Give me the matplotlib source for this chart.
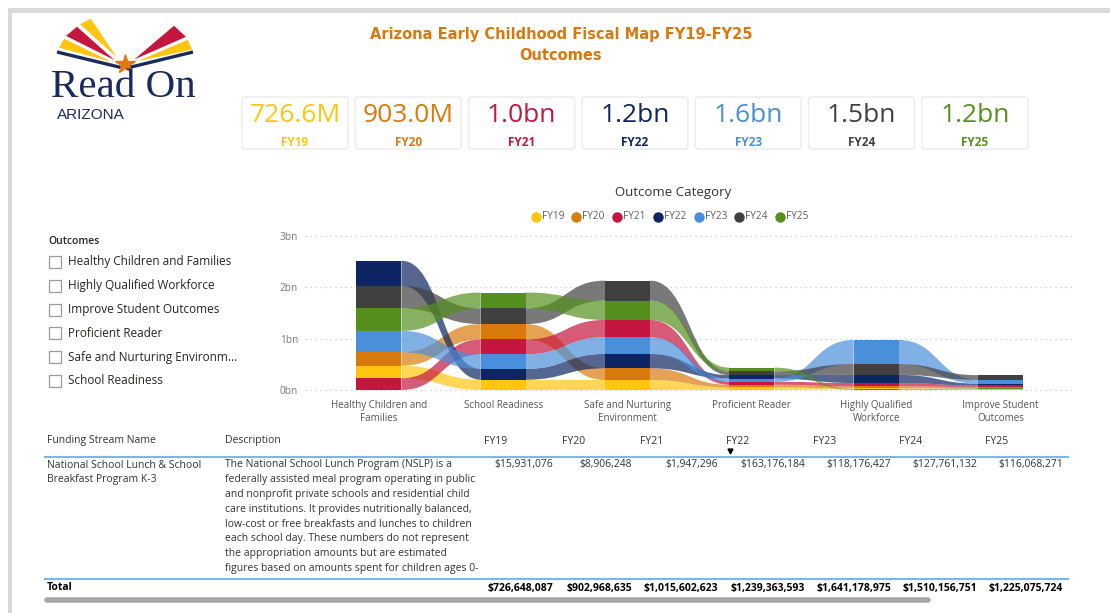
import numpy as np
import matplotlib
matplotlib.use("Agg")
import matplotlib.pyplot as plt
from matplotlib.path import Path
from matplotlib.patches import PathPatch, Polygon, FancyBboxPatch, Rectangle

plt.rcParams["font.family"] = ["Open Sans", "DejaVu Sans"]

W, H = 1110, 613

# --- data -------------------------------------------------------------
years = ["FY19", "FY20", "FY21", "FY22", "FY23", "FY24", "FY25"]
year_colors = ["#FFC50F", "#D97B0C", "#C4163F", "#0D2663", "#4A8FD9", "#404040", "#55901E"]

categories = ["Healthy Children and\nFamilies", "School Readiness", "Safe and Nurturing\nEnvironment",
              "Proficient Reader", "Highly Qualified\nWorkforce", "Improve Student\nOutcomes"]

# amounts in billions per outcome category
fy19 = [0.247, 0.200, 0.195, 0.050, 0.018, 0.015]
fy20 = [0.260, 0.300, 0.227, 0.052, 0.040, 0.024]
fy21 = [0.227, 0.290, 0.338, 0.058, 0.065, 0.030]
fy22 = [0.490, 0.210, 0.280, 0.068, 0.160, 0.036]
fy23 = [0.420, 0.285, 0.325, 0.062, 0.470, 0.075]
fy24 = [0.440, 0.305, 0.390, 0.070, 0.210, 0.090]
fy25 = [0.435, 0.310, 0.377, 0.075, 0.012, 0.018]

totals = [726648087, 902968635, 1015602623, 1239363593, 1641178975, 1510156751, 1225075724]

outcome_options = ["Healthy Children and Families", "Highly Qualified Workforce",
                   "Improve Student Outcomes", "Proficient Reader",
                   "Safe and Nurturing Environm...", "School Readiness"]

stream_name = ["National School Lunch & School", "Breakfast Program K-3"]
stream_desc = [
    "The National School Lunch Program (NSLP) is a",
    "federally assisted meal program operating in public",
    "and nonprofit private schools and residential child",
    "care institutions. It provides nutritionally balanced,",
    "low-cost or free breakfasts and lunches to children",
    "each school day. These numbers do not represent",
    "the appropriation amounts but are estimated",
    "figures based on amounts spent for children ages 0-",
]
stream_values = [15931076, 8906248, 1947296, 163176184, 118176427, 127761132, 116068271]


def short_amount(v):
    if v >= 1e9:
        return f"{v / 1e9:.1f}bn"
    return f"{v / 1e6:.1f}M"


fig = plt.figure(figsize=(W / 100, H / 100), dpi=100)

# background canvas in pixel coords (y down)
bg = fig.add_axes([0, 0, 1, 1])
bg.set_xlim(0, W)
bg.set_ylim(H, 0)
bg.axis("off")

# frame
bg.add_patch(Rectangle((8, 8), W - 8, 5, fc="#D9D9D9", lw=0))
bg.add_patch(Rectangle((8, 8), 4, H - 8, fc="#D9D9D9", lw=0))

# logo
navy = "#1B2A5E"
bg.add_patch(Polygon([(91, 18), (79, 24), (120, 61)], fc="#FFC50F", ec="white", lw=0.8))
bg.add_patch(Polygon([(77, 26), (65, 36), (118, 62.5)], fc="#C4163F", ec="white", lw=0.8))
bg.add_patch(Polygon([(64, 38), (58, 48), (117, 64)], fc="#FFC50F", ec="white", lw=0.8))
bg.add_patch(Polygon([(174, 25), (187, 37), (131, 61.5)], fc="#C4163F", ec="white", lw=0.8))
bg.add_patch(Polygon([(188, 39), (193, 50), (132, 63)], fc="#FFC50F", ec="white", lw=0.8))
bg.plot([57, 121], [52, 67.5], color=navy, lw=2.4, solid_capstyle="butt")
bg.plot([129, 193], [67.5, 52], color=navy, lw=2.4, solid_capstyle="butt")
bg.plot(125, 64, marker="*", ms=15, color="#E07B12", mec="#E07B12")
fig.text(51 / W, 1 - 97 / H, "Read On", family="Liberation Serif", fontsize=29.5,
         color=navy, va="baseline", ha="left")
fig.text(57 / W, 1 - 119 / H, "ARIZONA", family="Liberation Sans", fontsize=11,
         color=navy, va="baseline", ha="left")

# title
title_color = "#D9780F"
fig.text(561 / W, 1 - 34 / H, "Arizona Early Childhood Fiscal Map FY19-FY25", ha="center",
         va="center", fontsize=10.5, fontweight="bold", family="DejaVu Sans", color=title_color)
fig.text(561 / W, 1 - 56 / H, "Outcomes", ha="center", va="center", fontsize=10.5,
         fontweight="bold", family="DejaVu Sans", color=title_color)

# KPI cards
for i, (yr, tot, col) in enumerate(zip(years, totals, year_colors)):
    x = 242 + 113.3 * i
    bg.add_patch(FancyBboxPatch((x, 97), 106, 52, boxstyle="round,pad=0,rounding_size=3",
                                fc="white", ec="#EBEBEB", lw=1))
    bg.text(x + 53, 115.5, short_amount(tot), ha="center", va="center", fontsize=19, color=col)
    bg.text(x + 53, 142.5, yr, ha="center", va="center", fontsize=8.5, fontweight="bold", color=col)

# slicer
bg.text(48, 241.5, "Outcomes", ha="left", va="center", fontsize=7.5, fontweight="semibold",
        color="#252423")
for i, name in enumerate(outcome_options):
    yc = 262 + 23.75 * i
    bg.add_patch(Rectangle((48.5, yc - 6), 12, 12, fc="white", ec="#9A9A9A", lw=0.9))
    bg.text(68, yc, name, ha="left", va="center", fontsize=8.5, color="#252423")

# --- ribbon chart -------------------------------------------------------
series = np.array([fy19, fy20, fy21, fy22, fy23, fy24, fy25])
n_ser, n_cat = series.shape
bottoms = np.zeros_like(series)
for j in range(n_cat):
    acc = 0.0
    for s in np.argsort(series[:, j], kind="stable"):
        bottoms[s, j] = acc
        acc += series[s, j]
tops = bottoms + series

ax = fig.add_axes([305 / W, 1 - 392 / H, 770 / W, 161 / H])
ax.patch.set_alpha(0)
ax.set_xlim(-0.595, 5.6)
ax.set_ylim(-0.04, 3.1)

bw = 0.181
codes = [Path.MOVETO, Path.CURVE4, Path.CURVE4, Path.CURVE4, Path.LINETO,
         Path.CURVE4, Path.CURVE4, Path.CURVE4, Path.CLOSEPOLY]
for s in range(n_ser):
    col = year_colors[s]
    for j in range(n_cat - 1):
        x0, x1 = j + bw, j + 1 - bw
        xm = (x0 + x1) / 2
        verts = [(x0, tops[s, j]), (xm, tops[s, j]), (xm, tops[s, j + 1]), (x1, tops[s, j + 1]),
                 (x1, bottoms[s, j + 1]), (xm, bottoms[s, j + 1]), (xm, bottoms[s, j]),
                 (x0, bottoms[s, j]), (x0, tops[s, j])]
        ax.add_patch(PathPatch(Path(verts, codes), fc=col, alpha=0.7, lw=0))
for s in range(n_ser):
    ax.bar(np.arange(n_cat), series[s], bottom=bottoms[s], width=2 * bw,
           color=year_colors[s], lw=0, zorder=3)

ax.set_yticks([0, 1, 2, 3], ["0bn", "1bn", "2bn", "3bn"])
ax.set_xticks(np.arange(n_cat), categories)
ax.tick_params(axis="y", length=0, pad=5, labelsize=7.3, labelcolor="#777777")
ax.tick_params(axis="x", length=0, pad=6, labelsize=7, labelcolor="#555555")
ax.yaxis.grid(True, color="#C8C8C8", linestyle=(0, (1, 3)), lw=0.9)
ax.set_axisbelow(True)
for sp in ax.spines.values():
    sp.set_visible(False)

fig.text(673 / W, 1 - 192.5 / H, "Outcome Category", ha="center", va="center",
         fontsize=9.5, color="#333333")
for i, (yr, col) in enumerate(zip(years, year_colors)):
    cx = 535.7 + 40.7 * i
    bg.plot(cx, 216.5, "o", ms=6.5, color=col)
    bg.text(cx + 6, 216.5, yr, ha="left", va="center", fontsize=7.3, color="#605E5C")

# --- table --------------------------------------------------------------
head_x = [484, 562, 640, 726, 813, 899, 985]
val_right = [553, 632, 718, 805, 891, 977, 1063]
tcol = "#333333"
bg.text(47, 441, "Funding Stream Name", ha="left", va="center", fontsize=7.5, color=tcol)
bg.text(225, 441, "Description", ha="left", va="center", fontsize=7.5, color=tcol)
for yr, hx in zip(years, head_x):
    bg.text(hx, 441, yr, ha="left", va="center", fontsize=7.5, color=tcol)
bg.plot(730, 451, marker="v", ms=3.5, color="black")
bg.plot([45, 1068], [456.5, 456.5], color="#7DB5EE", lw=1.5)

for k, line in enumerate(stream_name):
    bg.text(47, 465 + 14.8 * k, line, ha="left", va="center", fontsize=7.5, color=tcol)
for k, line in enumerate(stream_desc):
    bg.text(225, 465 + 14.8 * k, line, ha="left", va="center", fontsize=7.5, color=tcol)
for v, xr in zip(stream_values, val_right):
    bg.text(xr, 465, f"${v:,}", ha="right", va="center", fontsize=7.5, color=tcol)

bg.plot([45, 1068], [578.5, 578.5], color="#7DB5EE", lw=1.5)
bg.text(47, 588, "Total", ha="left", va="center", fontsize=7.5, fontweight="bold", color="black")
for v, xr in zip(totals, val_right):
    bg.text(xr, 588, f"${v:,}", ha="right", va="center", fontsize=7.5, fontweight="bold",
            color="black")
bg.plot([47, 928], [599.5, 599.5], color="#A6A6A6", lw=4, solid_capstyle="round")

fig.savefig("out.png", dpi=100)
